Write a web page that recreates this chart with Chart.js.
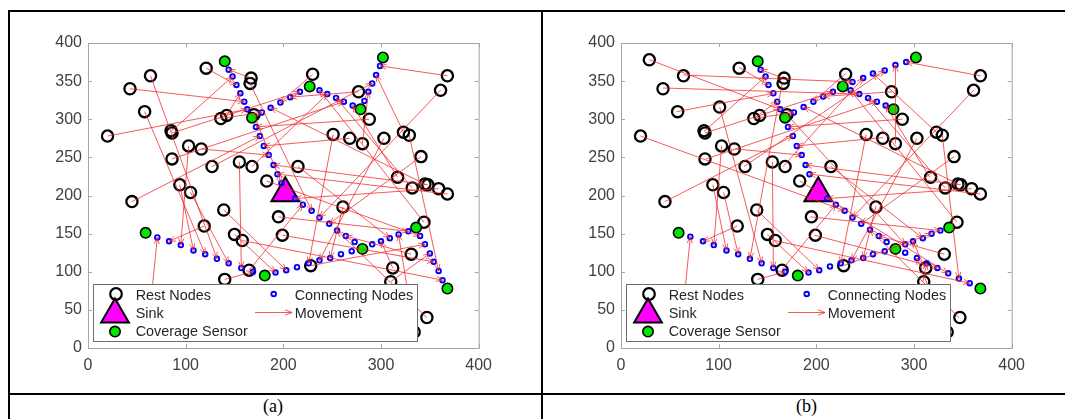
<!DOCTYPE html>
<html>
<head>
<meta charset="utf-8">
<script src="https://cdn.jsdelivr.net/npm/chart.js@4.4.0/dist/chart.umd.min.js"></script>
<style>
  body { margin: 0; background: #fff; width: 1065px; height: 419px; position: relative; overflow: hidden; }
  .line { position: absolute; background: #000; }
  .wrap { position: absolute; top: 25px; width: 470px; height: 350px; }
  .cap { position: absolute; top: 396px; height: 20px; line-height: 20px; font: 18px "Liberation Serif", "Times New Roman", serif; color: #000; }
</style>
</head>
<body>
<div class="line" style="left:8px;top:10px;width:1057px;height:2px"></div>
<div class="line" style="left:8px;top:10px;width:2px;height:409px"></div>
<div class="line" style="left:541px;top:10px;width:2px;height:409px"></div>
<div class="line" style="left:8px;top:393px;width:1057px;height:2px"></div>

<div class="wrap" style="left:30px"><canvas id="chartA"></canvas></div>
<div class="wrap" style="left:563px"><canvas id="chartB"></canvas></div>

<div class="cap" style="left:263px">(a)</div>
<div class="cap" style="left:796px">(b)</div>

<script>
// axis ticks
const xTicks = [0, 100, 200, 300, 400]
const yTicks = [0, 50, 100, 150, 200, 250, 300, 350, 400]

// rest nodes (same in both panels), plus two extra in (b)
const restNodes = [
  [121,367],[64,357],[43,340],[167,354],[166,347],[58,310],[136,301],[142,305],[170,306],[20,278],
  [85,285],[86,282],[103,265],[116,261],[86,248],[127,238],[155,244],[168,238],[183,219],[215,238],
  [94,214],[105,204],[45,192],[139,181],[230,359],[368,357],[361,338],[277,336],[288,300],[251,280],
  [268,275],[281,268],[303,275],[323,283],[329,279],[341,251],[317,224],[332,210],[345,215],[348,214],
  [359,209],[368,202],[261,185],[119,160],[195,172],[199,148],[150,149],[158,141],[165,102],[140,90],
  [228,108],[331,123],[312,105],[310,87],[344,165],[347,40],[334,21]
]
const restExtraB = [[29,378],[101,316]]

const sink = [[202,203]]

const coverage = [
  [140,376],[168,302],[227,343],[279,313],[302,381],[59,151],[181,95],[281,130],[336,158],[368,78]
]

// connecting nodes, panel (a)
const connA = [
  [144,365],[148,356],[152,345],[156,334],[160,323],[163,313],
  [172,290],[176,278],[180,265],[185,253],[190,240],[194,228],[198,216],
  [178,309],[187,315],[197,322],[207,329],[217,336],
  [237,338],[245,333],[254,328],[262,323],[271,318],
  [283,324],[287,336],[291,347],[295,358],[299,370],
  [71,145],[83,140],[95,135],[108,128],[120,123],[132,117],[144,111],[157,105],[169,100],
  [192,99],[203,102],[214,106],[226,111],[237,115],[248,118],[259,123],[270,127],
  [291,136],[300,140],[309,144],[318,149],[328,153],
  [340,147],[345,136],[350,124],[354,113],[359,101],[363,89],
  [212,196],[220,188],[229,180],[237,171],[247,163],[255,154],[264,147],[273,139]
]

// connecting nodes, panel (b)
const connB = [
  [143,365],[148,356],[151,345],[156,334],[160,323],[163,313],
  [171,290],[176,278],[180,265],[185,253],[189,240],[193,228],
  [177,309],[187,316],[197,323],[207,330],[217,336],
  [237,349],[248,354],[258,360],[270,364],[281,371],[292,375],
  [235,338],[244,333],[253,328],[262,323],[271,318],
  [71,146],[84,140],[95,135],[108,128],[120,123],[132,117],[144,111],[156,105],[168,100],
  [192,99],[203,102],[214,107],[225,111],[236,115],[248,118],[258,123],[270,127],
  [291,136],[299,140],[309,144],[318,150],[327,154],
  [211,196],[220,188],[229,180],[237,171],[246,163],[255,155],[264,147],[272,139],
  [291,125],[303,118],[313,111],[324,105],[335,98],[346,91],[357,85]
]

// movement arrows [x0, y0, x1, y1], panel (a)
const moveA = [
  [85,284,148,356],[121,367,152,345],[64,357,132,117],[20,278,163,313],[43,340,160,323],
  [58,310,120,123],[86,282,217,336],[45,192,176,278],[94,214,108,128],[105,204,144,111],
  [86,248,262,323],[103,265,95,135],[116,261,185,253],[127,238,291,347],[155,244,157,105],
  [139,181,203,102],[119,160,83,140],[150,149,192,99],[158,141,363,89],[368,357,299,370],
  [361,338,237,171],[277,336,207,329],[230,359,197,322],[288,300,172,290],[251,280,226,111],
  [268,275,180,265],[281,268,287,336],[303,275,237,115],[323,283,295,358],[329,279,359,101],
  [341,251,247,163],[317,224,271,318],[332,210,254,328],[345,215,187,315],[348,214,190,240],
  [359,209,212,196],[368,202,194,228],[261,185,248,118],[215,238,309,144],[183,219,340,147],
  [195,172,328,153],[199,148,354,113],[228,108,345,136],[331,123,264,147],[312,105,300,140],
  [310,87,350,124],[344,165,237,338],[347,40,255,154],[334,21,318,149],[165,102,220,188],
  [140,90,169,100],[168,238,245,333],[136,301,178,309],[142,305,156,334],[167,354,144,365],
  [166,347,229,180],[170,306,198,216],[62,30,71,145]
]

// movement arrows [x0, y0, x1, y1], panel (b)
const moveB = [
  [85,284,148,356],[121,368,151,345],[64,358,237,349],[29,378,163,313],[43,341,244,333],
  [57,310,156,334],[86,282,217,336],[45,192,176,278],[94,214,108,128],[105,204,120,123],
  [87,248,262,323],[103,265,95,135],[117,261,185,253],[126,238,270,364],[155,244,156,105],
  [139,181,203,102],[119,160,84,140],[150,149,192,99],[157,141,357,85],[368,357,292,375],
  [361,338,237,171],[278,336,207,330],[230,360,197,323],[288,300,171,290],[251,280,225,111],
  [268,276,180,265],[281,268,281,371],[303,275,236,115],[323,283,258,360],[329,279,346,91],
  [341,251,246,163],[316,224,271,318],[332,210,253,328],[345,215,187,316],[348,214,189,240],
  [359,209,211,196],[368,202,193,228],[261,186,248,118],[215,238,309,144],[183,219,335,98],
  [194,172,327,154],[198,148,324,105],[228,108,318,150],[331,123,264,147],[311,105,299,140],
  [309,87,313,111],[344,165,235,338],[346,40,255,155],[333,21,303,118],[165,103,220,188],
  [140,90,168,100],[166,238,248,354],[136,301,177,309],[141,306,160,323],[166,354,143,365],
  [165,347,132,117],[170,306,291,136],[20,278,229,180],[101,316,144,111],[62,30,71,146]
]

const RED = 'rgba(240,40,40,0.85)'
const pts = arr => arr.map(p => ({ x: p[0], y: p[1] }))

// open arrowheads at the end of every movement segment
const arrowPlugin = {
  id: 'arrows',
  afterDatasetsDraw(chart) {
    const ctx = chart.ctx
    chart.data.datasets.forEach((ds, i) => {
      if (!ds.arrow) return
      const el = chart.getDatasetMeta(i).data
      const a = el[0], b = el[1]
      const ang = Math.atan2(b.y - a.y, b.x - a.x)
      ctx.save()
      ctx.strokeStyle = RED
      ctx.lineWidth = 0.9
      ctx.beginPath()
      for (const s of [-1, 1]) {
        ctx.moveTo(b.x, b.y)
        ctx.lineTo(b.x - 7 * Math.cos(ang + s * 0.38), b.y - 7 * Math.sin(ang + s * 0.38))
      }
      ctx.stroke()
      ctx.restore()
    })
  }
}

// matlab style box with inward ticks, then the legend
const boxLegendPlugin = {
  id: 'boxLegend',
  afterDraw(chart) {
    const ctx = chart.ctx
    const { left, right, top, bottom } = chart.chartArea
    const xs = chart.scales.x, ys = chart.scales.y
    ctx.save()
    ctx.strokeStyle = '#a6a6a6'
    ctx.lineWidth = 1
    ctx.strokeRect(left + 0.5, top + 0.5, right - left, bottom - top)
    ctx.beginPath()
    xTicks.forEach(v => {
      const px = Math.round(xs.getPixelForValue(v)) + 0.5
      ctx.moveTo(px, bottom); ctx.lineTo(px, bottom - 4)
      ctx.moveTo(px, top); ctx.lineTo(px, top + 4)
    })
    yTicks.forEach(v => {
      const py = Math.round(ys.getPixelForValue(v)) + 0.5
      ctx.moveTo(left, py); ctx.lineTo(left + 4, py)
      ctx.moveTo(right, py); ctx.lineTo(right - 4, py)
    })
    ctx.stroke()

    // legend
    const L = left + 5, T = top + 241, W = 324, H = 57
    ctx.fillStyle = '#fff'
    ctx.fillRect(L, T, W, H)
    ctx.strokeStyle = '#6e6e6e'
    ctx.strokeRect(L + 0.5, T + 0.5, W, H)

    // rest node marker
    ctx.lineWidth = 2.2
    ctx.strokeStyle = '#000'
    ctx.beginPath(); ctx.arc(L + 23, T + 10, 5.8, 0, Math.PI * 2); ctx.stroke()
    // sink marker
    const r = 16, cx = L + 22, cy = T + 30.5
    ctx.beginPath()
    ctx.moveTo(cx, cy - r)
    ctx.lineTo(cx + r * Math.sin(2 * Math.PI / 3), cy + r / 2)
    ctx.lineTo(cx - r * Math.sin(2 * Math.PI / 3), cy + r / 2)
    ctx.closePath()
    ctx.fillStyle = '#ff00ff'; ctx.fill()
    ctx.lineWidth = 2; ctx.stroke()
    // coverage marker
    ctx.beginPath(); ctx.arc(L + 22, T + 47.6, 5.2, 0, Math.PI * 2)
    ctx.fillStyle = '#00e600'; ctx.fill(); ctx.lineWidth = 1.6; ctx.stroke()
    // connecting marker
    ctx.beginPath(); ctx.arc(L + 180.7, T + 10, 2.3, 0, Math.PI * 2)
    ctx.strokeStyle = '#0000ff'; ctx.lineWidth = 1.9; ctx.stroke()
    // movement marker
    ctx.strokeStyle = RED; ctx.lineWidth = 0.9
    ctx.beginPath()
    ctx.moveTo(L + 162, T + 28.5); ctx.lineTo(L + 199, T + 28.5)
    ctx.moveTo(L + 199, T + 28.5); ctx.lineTo(L + 192, T + 25.8)
    ctx.moveTo(L + 199, T + 28.5); ctx.lineTo(L + 192, T + 31.2)
    ctx.stroke()

    ctx.fillStyle = '#262626'
    ctx.font = '14.4px "Liberation Sans", Arial, sans-serif'
    ctx.textBaseline = 'middle'
    ctx.textAlign = 'left'
    ctx.fillText('Rest Nodes', L + 42.7, T + 12)
    ctx.fillText('Sink', L + 42.7, T + 30.5)
    ctx.fillText('Coverage Sensor', L + 42.7, T + 48.5)
    ctx.fillText('Connecting Nodes', L + 201.7, T + 12)
    ctx.fillText('Movement', L + 201.7, T + 30.5)
    ctx.restore()
  }
}

function buildChart(id, rest, conn, moves) {
  const datasets = moves.map(m => ({
    label: 'Movement',
    data: [{ x: m[0], y: m[1] }, { x: m[2], y: m[3] }],
    showLine: true,
    borderColor: RED,
    borderWidth: 0.9,
    pointRadius: 0,
    arrow: true,
    order: 0
  }))
  datasets.push({
    label: 'Connecting Nodes',
    data: pts(conn),
    pointStyle: 'circle',
    pointRadius: 2.3,
    borderWidth: 1.9,
    borderColor: '#0000ff',
    backgroundColor: 'rgba(0,0,0,0)',
    order: 1
  })
  datasets.push({
    label: 'Coverage Sensor',
    data: pts(coverage),
    pointStyle: 'circle',
    pointRadius: 5.2,
    borderWidth: 1.6,
    borderColor: '#000',
    backgroundColor: '#00e600',
    order: 2
  })
  datasets.push({
    label: 'Sink',
    data: pts(sink),
    pointStyle: 'triangle',
    pointRadius: 16,
    borderWidth: 2,
    borderColor: '#000',
    backgroundColor: '#ff00ff',
    order: 3
  })
  datasets.push({
    label: 'Rest Nodes',
    data: pts(rest),
    pointStyle: 'circle',
    pointRadius: 5.6,
    borderWidth: 2.3,
    borderColor: '#000',
    backgroundColor: 'rgba(0,0,0,0)',
    order: 4
  })

  const tickFont = { family: '"Liberation Sans", Arial, sans-serif', size: 16 }
  new Chart(document.getElementById(id), {
    type: 'scatter',
    data: { datasets },
    plugins: [arrowPlugin, boxLegendPlugin],
    options: {
      responsive: true,
      maintainAspectRatio: false,
      animation: false,
      events: [],
      layout: { padding: { top: 15, right: 21, left: 0, bottom: 0 } },
      plugins: { legend: { display: false }, tooltip: { enabled: false } },
      scales: {
        x: {
          type: 'linear', min: 0, max: 400,
          afterBuildTicks: s => { s.ticks = xTicks.map(v => ({ value: v })) },
          afterFit: s => { s.height = 27 },
          grid: { display: false, drawTicks: false },
          border: { display: false },
          ticks: { font: tickFont, color: '#404040', padding: 8, maxRotation: 0 }
        },
        y: {
          type: 'linear', min: 0, max: 400,
          afterBuildTicks: s => { s.ticks = yTicks.map(v => ({ value: v })) },
          afterFit: s => { s.width = 58 },
          grid: { display: false, drawTicks: false },
          border: { display: false },
          ticks: { font: tickFont, color: '#404040', padding: 6 }
        }
      }
    }
  })
}

buildChart('chartA', restNodes, connA, moveA)
buildChart('chartB', restNodes.concat(restExtraB), connB, moveB)
</script>
</body>
</html>
